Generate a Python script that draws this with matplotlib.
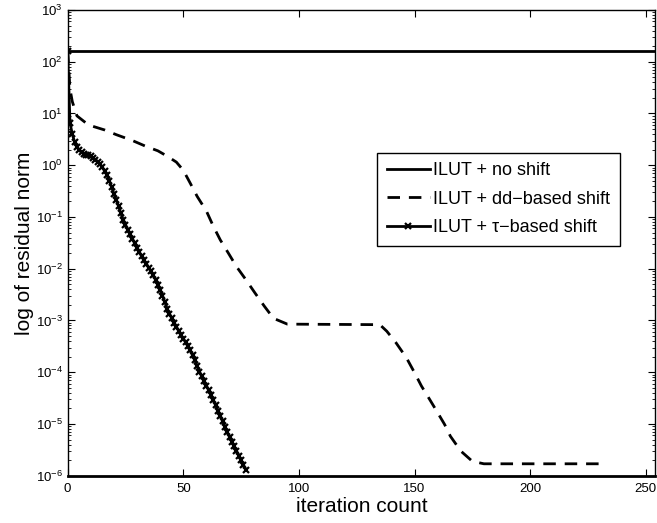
#!/usr/bin/env python3

'''
Residual norm history for ILUT preconditioned solves with different shifts.
'''

import matplotlib
matplotlib.use('Agg')
import matplotlib.pyplot as plt
from matplotlib.ticker import LogLocator, NullFormatter

plt.rcParams['font.family'] = ['Liberation Sans', 'DejaVu Sans']
plt.rcParams['mathtext.default'] = 'regular'

# ILUT + no shift: stagnates at the initial residual
noshift_it = [0, 300]
noshift_res = [162., 162.]

# ILUT + dd-based shift
dd_it = [0, 1, 2, 4, 9, 16, 21, 28, 34, 39, 43, 47, 50, 53, 56, 60, 63,
         66, 69.5, 73, 77, 81, 85, 89, 95, 135, 138, 142, 146.5, 150,
         153, 156.5, 159.5, 163, 165.5, 170, 175, 180, 232]
dd_res = [162., 30., 17., 9., 6., 4.8, 3.9, 3.0, 2.3, 1.9, 1.5, 1.15,
          0.8, 0.45, 0.25, 0.13, 0.066, 0.036, 0.02, 0.011, 6.2e-3,
          3.4e-3, 1.9e-3, 1.1e-3, 8.5e-4, 8.3e-4, 6.2e-4, 3.7e-4, 1.9e-4,
          9.8e-5, 5.4e-5, 3.0e-5, 1.8e-5, 9.8e-6, 5.8e-6, 3.0e-6, 1.9e-6,
          1.7e-6, 1.7e-6]

# ILUT + tau-based shift, one value per iteration (log10 of residual)
tau_log = [2.21, 0.82, 0.60, 0.45, 0.36, 0.29, 0.25, 0.22, 0.20, 0.19,
           0.17, 0.14, 0.11, 0.07, 0.02, -0.04, -0.11, -0.19, -0.30, -0.42,
           -0.55, -0.67, -0.79, -0.93, -1.05, -1.15, -1.25, -1.33, -1.42,
           -1.51, -1.59, -1.68, -1.76, -1.84, -1.90, -1.98, -2.05, -2.13,
           -2.21, -2.31, -2.41, -2.52, -2.64, -2.77, -2.87, -2.95, -3.04,
           -3.12, -3.20, -3.28, -3.35, -3.42, -3.50, -3.58, -3.67, -3.77,
           -3.88, -3.99, -4.08, -4.17, -4.26, -4.35, -4.44, -4.54, -4.64,
           -4.74, -4.84, -4.95, -5.05, -5.16, -5.25, -5.34, -5.43, -5.52,
           -5.61, -5.70, -5.79, -5.88]
tau_it = list(range(len(tau_log)))
tau_res = [10 ** v for v in tau_log]

labels = ['ILUT + no shift', 'ILUT + dd\u2212based shift',
          'ILUT + \u03c4\u2212based shift']

fig = plt.figure(figsize=(6.57, 5.23), dpi=100)
ax = fig.add_axes([0.103, 0.0904, 0.894, 0.8905])

ax.semilogy(noshift_it, noshift_res, color='k', lw=2.0, label=labels[0])
ax.semilogy(dd_it, dd_res, color='k', lw=2.0, ls=(0, (4.5, 3.2)),
            label=labels[1])
ax.semilogy(tau_it, tau_res, color='k', lw=2.0, marker='x', ms=5,
            mew=1.6, label=labels[2])

ax.set_xlim(0, 254)
ax.set_ylim(1e-6, 1e3)
ax.set_xticks([0, 50, 100, 150, 200, 250])
ax.yaxis.set_major_locator(LogLocator(base=10, numticks=20))
ax.yaxis.set_minor_locator(LogLocator(base=10, subs=range(2, 10),
                                      numticks=20))
ax.yaxis.set_minor_formatter(NullFormatter())

ax.tick_params(which='both', direction='in', top=True, right=True,
               labelsize=9.5, colors='k')
ax.tick_params(which='major', length=5, width=0.8)
ax.tick_params(which='minor', length=2.5, width=0.6)
ax.tick_params(axis='x', pad=5)
for s in ax.spines.values():
    s.set_linewidth(1.0)
ax.spines['bottom'].set_linewidth(2.0)

ax.set_xlabel('iteration count', fontsize=15, labelpad=2)
ax.set_ylabel('log of residual norm', fontsize=15, labelpad=1)

leg = ax.legend(loc='upper left', bbox_to_anchor=(0.527, 0.694),
                borderaxespad=0, fancybox=False, fontsize=13,
                handlelength=2.35, handletextpad=0.2, labelspacing=0.62,
                borderpad=0.55, framealpha=1)
leg.get_frame().set_edgecolor('k')
leg.get_frame().set_linewidth(1.0)

fig.savefig('out.png', dpi=100)
